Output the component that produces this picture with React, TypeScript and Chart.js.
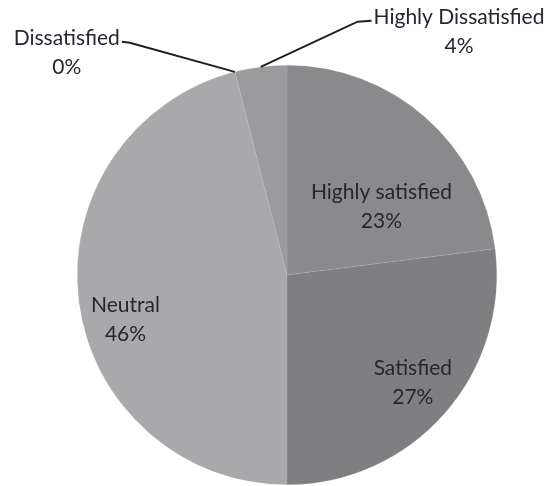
import React, { useEffect, useRef } from "react";
import { Chart, registerables } from "chart.js";

Chart.register(...registerables);

const categories = ["Highly satisfied", "Satisfied", "Neutral", "Dissatisfied", "Highly Dissatisfied"];
const percentValues = [23, 27, 46, 0, 4];
const sliceColors = ["#8a8a8c", "#7f7f81", "#a9a9ab", "#a0a0a2", "#9b9b9d"];
// label anchor positions as fractions of the pie radius relative to its centre
const labelOffsets = [
  [0.45, -0.33],
  [0.6, 0.51],
  [-0.77, 0.21],
  [-1.05, -1.06],
  [0.82, -1.16],
];
const outsideLabel = [false, false, false, true, true];

const labelPlugin = {
  id: "pieLabels",
  afterDatasetsDraw(chart: any) {
    const ctx = chart.ctx;
    const meta = chart.getDatasetMeta(0);
    const first = meta.data[0];
    const cx = first.x;
    const cy = first.y;
    const R = first.outerRadius;
    ctx.save();
    ctx.font = "21px Lato, 'Open Sans', sans-serif";
    ctx.fillStyle = "#262630";
    ctx.textAlign = "center";
    ctx.textBaseline = "middle";
    categories.forEach((name, i) => {
      const [fx, fy] = labelOffsets[i];
      const lx = cx + fx * R;
      const ly = cy + fy * R;
      ctx.fillText(name, lx, ly - 14);
      ctx.fillText(percentValues[i] + "%", lx, ly + 15);
      if (outsideLabel[i]) {
        const arc = meta.data[i];
        const mid = (arc.startAngle + arc.endAngle) / 2;
        const ex = cx + Math.cos(mid) * R;
        const ey = cy + Math.sin(mid) * R;
        const w = ctx.measureText(name).width;
        const left = lx < cx;
        const tx = left ? lx + w / 2 + 2 : lx - w / 2 - 2;
        const ty = ly - 11;
        const kx = left ? tx + 8 : tx - 14;
        ctx.strokeStyle = "#1f1f22";
        ctx.lineWidth = 2;
        ctx.beginPath();
        ctx.moveTo(tx, ty);
        ctx.lineTo(kx, ty + 1);
        ctx.lineTo(ex, ey);
        ctx.stroke();
      }
    });
    ctx.restore();
  },
};

export default function App() {
  const ref = useRef<HTMLCanvasElement>(null);
  useEffect(() => {
    if (!ref.current) return;
    const chart = new Chart(ref.current, {
      type: "pie",
      data: {
        labels: categories,
        datasets: [
          {
            data: percentValues,
            backgroundColor: sliceColors,
            borderColor: "rgba(200,200,205,0.35)",
            borderWidth: 0.5,
          },
        ],
      },
      options: {
        responsive: false,
        animation: false,
        layout: { padding: { top: 65, bottom: 1, left: 77, right: 58 } },
        plugins: { legend: { display: false }, tooltip: { enabled: false } },
      },
      plugins: [labelPlugin],
    });
    return () => chart.destroy();
  }, []);
  return (
    <div style={{ position: "absolute", left: 0, top: 0, width: 555, height: 486, background: "#fff" }}>
      <canvas ref={ref} width={555} height={486} style={{ width: 555, height: 486 }} />
    </div>
  );
}
